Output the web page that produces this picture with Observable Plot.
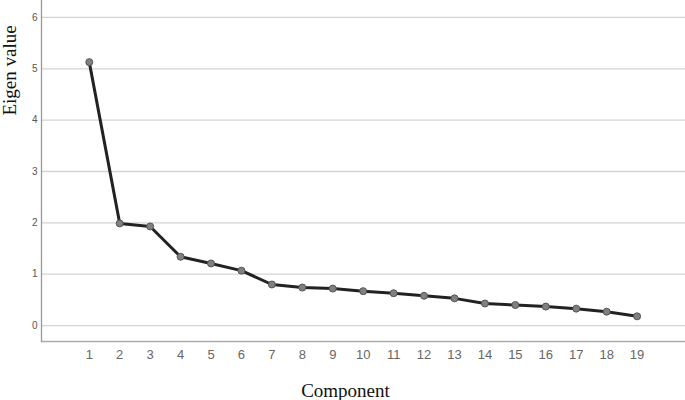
<!DOCTYPE html>
<html>
<head>
<meta charset="utf-8">
<script src="https://cdn.jsdelivr.net/npm/d3@7"></script>
<script src="https://cdn.jsdelivr.net/npm/@observablehq/plot@0.6"></script>
<style>
  html, body { margin: 0; padding: 0; background: #fff; }
  #chart svg { display: block; }
</style>
</head>
<body>
<div id="chart"></div>
<script>
const components = [1,2,3,4,5,6,7,8,9,10,11,12,13,14,15,16,17,18,19];
const eigenValues = [5.13,1.99,1.93,1.34,1.21,1.07,0.80,0.74,0.72,0.67,0.63,0.58,0.53,0.43,0.40,0.37,0.33,0.27,0.18];
const yTicks = [0,1,2,3,4,5,6];
const xTitle = "Component";
const yTitle = "Eigen value";

const data = components.map((c, i) => ({component: c, value: eigenValues[i]}));

const chart = Plot.plot({
  width: 685,
  height: 400,
  marginLeft: 41,
  marginRight: 0,
  marginTop: 0,
  marginBottom: 59,
  style: {background: "#fff", overflow: "visible"},
  x: {domain: [-0.57, 20.59], axis: null},
  y: {domain: [-0.31, 6.33], axis: null},
  marks: [
    Plot.ruleY(yTicks, {stroke: "#d4d4d4", strokeWidth: 1.3}),
    Plot.axisY(yTicks, {tickSize: 0, tickPadding: 4, tickFormat: d => String(d), fontSize: 10, fill: "#555", fontFamily: "Liberation Sans, Arial, sans-serif", label: null}),
    Plot.axisX(components, {tickSize: 0, tickPadding: 8, tickFormat: d => String(d), fontSize: 13, fill: "#666", fontFamily: "Liberation Sans, Arial, sans-serif", label: null}),
    Plot.frame({anchor: "left", stroke: "#999", strokeWidth: 1.3}),
    Plot.frame({anchor: "bottom", stroke: "#aaa", strokeWidth: 1.3}),
    Plot.line(data, {x: "component", y: "value", stroke: "#222", strokeWidth: 3}),
    Plot.dot(data, {x: "component", y: "value", r: 3.5, fill: "#808080", stroke: "#555", strokeWidth: 1}),
    Plot.text([xTitle], {frameAnchor: "bottom", dy: 49, dx: -18, text: d => d, fontSize: 19, fill: "#111", fontFamily: "Liberation Serif, Times New Roman, serif", lineAnchor: "middle"}),
    Plot.text([yTitle], {frameAnchor: "top-left", dx: -32, dy: 70, rotate: -90, text: d => d, fontSize: 19, fill: "#111", fontFamily: "Liberation Serif, Times New Roman, serif", lineAnchor: "middle", textAnchor: "middle"})
  ]
});
document.getElementById("chart").append(chart);
</script>
</body>
</html>
